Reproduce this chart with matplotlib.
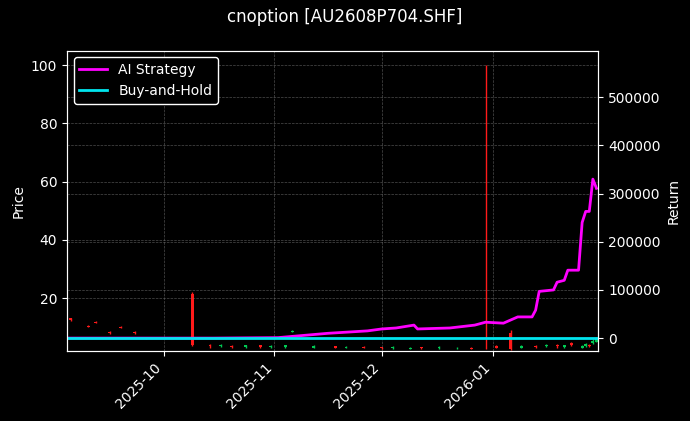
import pandas as pd
import numpy as np
import matplotlib
matplotlib.use('Agg')
import matplotlib.pyplot as plt
import matplotlib.dates as mdates

# candles: date, open, high, low, close
c_dates = ['2025-09-05', '2025-09-10', '2025-09-12', '2025-09-16', '2025-09-19', '2025-09-23',
           '2025-09-26', '2025-10-09', '2025-10-14', '2025-10-17', '2025-10-20', '2025-10-24',
           '2025-10-28', '2025-10-31', '2025-11-04', '2025-11-06', '2025-11-12', '2025-11-18',
           '2025-11-21', '2025-11-26', '2025-12-01', '2025-12-04', '2025-12-09', '2025-12-12',
           '2025-12-17', '2025-12-22', '2025-12-26', '2025-12-30', '2026-01-02', '2026-01-06',
           '2026-01-09', '2026-01-13', '2026-01-16', '2026-01-19', '2026-01-21', '2026-01-23',
           '2026-01-26', '2026-01-27', '2026-01-28', '2026-01-29', '2026-01-30']
c_open = [13.0, 10.5, 11.8, 8.3, 10.0, 8.3, 6.3, 21.5, 4.0, 3.5, 3.6, 3.3, 3.8, 3.2, 3.3, 8.5,
          3.0, 3.4, 2.9, 3.2, 3.1, 2.8, 2.6, 3.1, 2.8, 2.7, 2.9, 3.0, 3.5, 8.0,
          3.0, 3.6, 3.5, 4.0, 3.2, 4.5, 3.0, 3.5, 4.0, 4.6, 5.0]
c_close = [12.5, 10.2, 11.5, 8.0, 9.8, 8.0, 6.0, 4.0, 3.4, 4.0, 3.2, 3.8, 3.2, 3.6, 3.8, 8.8,
           3.5, 3.0, 3.3, 2.9, 2.8, 3.2, 3.0, 2.8, 3.2, 3.0, 2.6, 2.8, 3.0, 2.5,
           3.5, 3.1, 4.0, 3.4, 3.8, 4.0, 3.6, 4.2, 3.4, 5.4, 6.2]
c_high = [13.3, 10.8, 12.0, 8.6, 10.3, 8.6, 6.6, 22.0, 4.3, 4.4, 3.8, 4.0, 4.0, 3.9, 4.0, 9.2,
          3.8, 3.6, 3.5, 3.4, 3.3, 3.4, 3.2, 3.3, 3.4, 3.2, 3.1, 100.0, 3.8, 9.0,
          3.8, 3.8, 4.3, 4.2, 4.0, 4.8, 3.9, 4.5, 4.2, 5.8, 6.5]
c_low = [12.3, 10.0, 11.3, 7.8, 9.6, 7.8, 5.8, 3.5, 3.0, 3.2, 2.9, 3.0, 2.9, 3.0, 3.0, 8.2,
         2.8, 2.8, 2.7, 2.7, 2.6, 2.6, 2.4, 2.5, 2.6, 2.5, 2.4, 2.5, 2.7, 2.2,
         2.8, 2.8, 3.2, 3.0, 3.0, 3.6, 2.8, 3.2, 3.1, 4.4, 4.8]

# strategy equity
s_dates = ['2025-09-04', '2025-10-15', '2025-11-02', '2025-11-16', '2025-11-27', '2025-12-01',
           '2025-12-05', '2025-12-10', '2025-12-11', '2025-12-20', '2025-12-27', '2025-12-30',
           '2026-01-04', '2026-01-08', '2026-01-12', '2026-01-13', '2026-01-14', '2026-01-18',
           '2026-01-19', '2026-01-21', '2026-01-22', '2026-01-25', '2026-01-26', '2026-01-27',
           '2026-01-28', '2026-01-29', '2026-01-30']
s_ret = [0, 0, 1000, 10000, 15000, 19000, 21000, 27000, 19000, 21000, 27000, 33000,
         31000, 44000, 44000, 58000, 97000, 100000, 116000, 120000, 141000, 141000,
         240000, 263000, 263000, 330000, 311000]
bh_dates = ['2025-09-04 00:00', '2026-01-30 12:00']
bh_ret = [0, 0]

plt.style.use('dark_background')
fig, ax = plt.subplots(figsize=(6.9, 4.21), dpi=100)
fig.patch.set_facecolor('black')
ax.set_facecolor('black')

cd = mdates.date2num(pd.to_datetime(c_dates))
for x, o, h, l, c in zip(cd, c_open, c_high, c_low, c_close):
    col = '#00c853' if c >= o else '#ff1a1a'
    ax.vlines(x, l, h, color=col, linewidth=1)
    ax.bar(x, max(abs(c - o), 0.15), bottom=min(o, c), width=0.8, color=col)

ax.set_ylabel('Price')
ax.set_ylim(1.8, 105)
ax.grid(True, color='gray', linestyle='--', linewidth=0.5, alpha=0.6)

ax2 = ax.twinx()
ax2.plot(pd.to_datetime(s_dates), s_ret, color='#ff00ff', linewidth=2, label='AI Strategy')
ax2.plot(pd.to_datetime(bh_dates), bh_ret, color='#00e5ee', linewidth=2, label='Buy-and-Hold')
ax2.set_ylim(-27000, 597000)
ax2.set_ylabel('Return')
ax2.grid(True, color='gray', linestyle='--', linewidth=0.5, alpha=0.6)
ax2.legend(loc='upper left', facecolor='black', edgecolor='white', framealpha=1)

ax.set_xlim(mdates.date2num(pd.Timestamp('2025-09-04')), mdates.date2num(pd.Timestamp('2026-01-30 12:00')))
ax.xaxis.set_major_locator(mdates.MonthLocator())
ax.xaxis.set_major_formatter(mdates.DateFormatter('%Y-%m'))
plt.setp(ax.get_xticklabels(), rotation=45, ha='right')

fig.suptitle('cnoption [AU2608P704.SHF]')
fig.subplots_adjust(left=0.097, right=0.867, top=0.88, bottom=0.166)
fig.savefig('out.png')
